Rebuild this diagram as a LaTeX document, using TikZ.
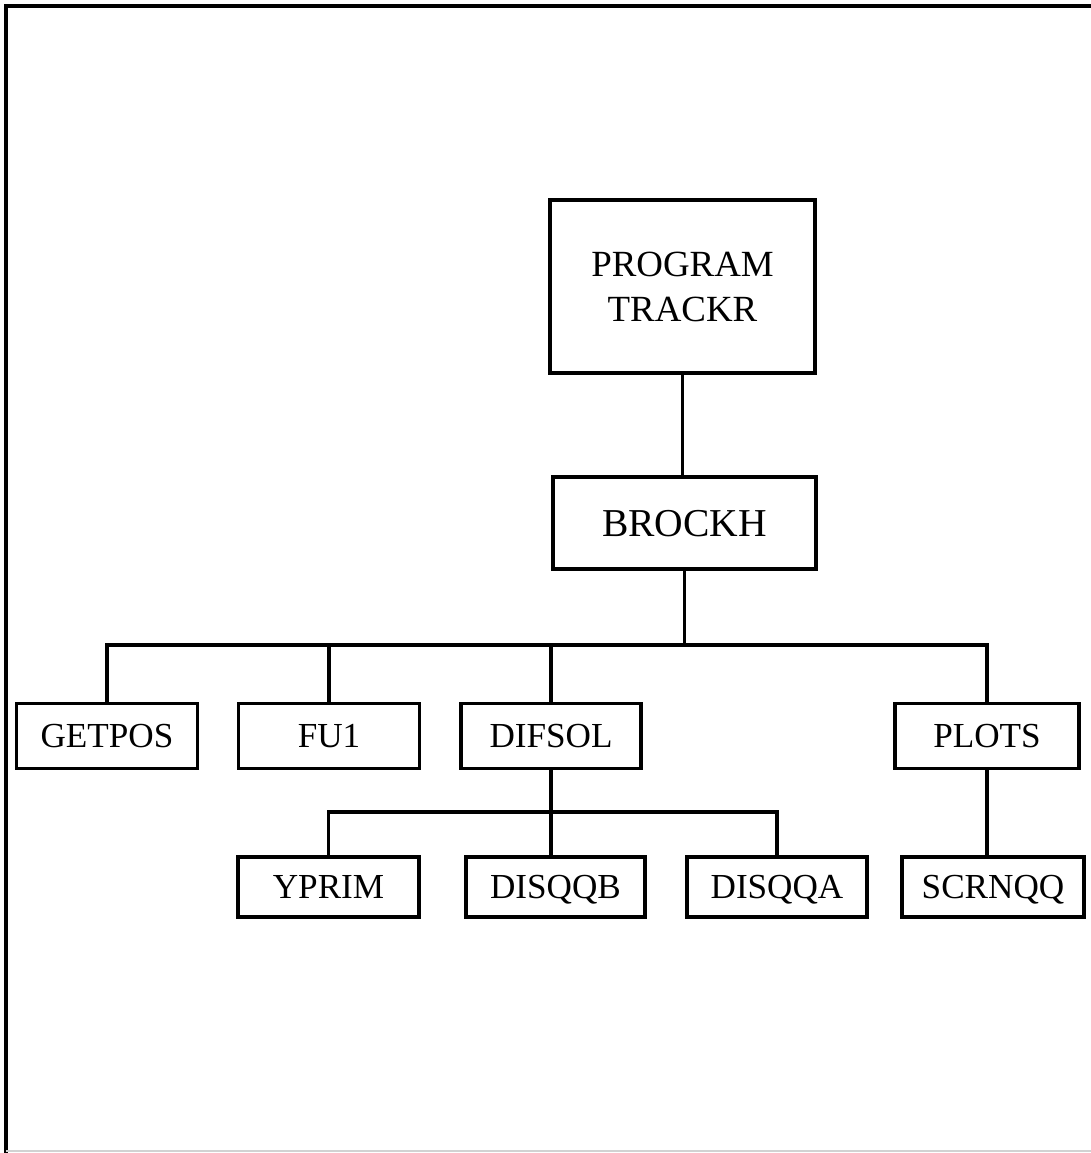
\documentclass[tikz,border=0pt]{standalone}
\usepackage{fontspec}
\setmainfont{Liberation Serif}
\usetikzlibrary{calc}

\begin{document}
\begin{tikzpicture}[x=0.02cm, y=-0.02cm,
    box/.style={draw, line width=1.8pt, inner sep=0pt, minimum width=3.62cm,
      minimum height=1.29cm, text height=13.4pt, text depth=0pt,
      font=\fontsize{20}{24}\selectfont},
    link/.style={line width=1.8pt}]
  \useasboundingbox (0,0) rectangle (1091,1153);
  % page frame
  \draw[line width=2.4pt] (6,1153) -- (6,6) -- (1091,6);
  \draw[gray!35, line width=1pt] (6,1151) -- (1091,1151);

  % main program and driver
  \node[box, minimum width=5.3cm, minimum height=3.46cm, align=center,
    text height=, text depth=,
    font=\fontsize{21}{25.6}\selectfont] (trackr) at (682.5,286.5) {PROGRAM\\TRACKR};
  \node[box, minimum width=5.26cm, minimum height=1.84cm, text height=15pt,
    font=\fontsize{22.5}{27}\selectfont] (brockh) at (684.5,523) {BROCKH};

  % first level
  \node[box] (getpos) at (107,736) {GETPOS};
  \node[box] (fu1) at (329,736) {FU1};
  \node[box, minimum width=3.6cm] (difsol) at (551,736) {DIFSOL};
  \node[box, minimum width=3.68cm] (plots) at (987,736) {PLOTS};

  % second level
  \node[box, minimum height=1.2cm] (yprim) at (328.5,887) {YPRIM};
  \node[box, minimum width=3.58cm, minimum height=1.2cm] (disqqb) at (555.5,887) {DISQQB};
  \node[box, minimum width=3.6cm, minimum height=1.2cm] (disqqa) at (777,887) {DISQQA};
  \node[box, minimum width=3.64cm, minimum height=1.2cm] (scrnqq) at (993,887) {SCRNQQ};

  \coordinate (bus) at (0,645);
  \coordinate (subbus) at (0,812);

  \draw[link] (trackr.south) -- (trackr.south |- brockh.north);
  \draw[link] (brockh.south) -- (brockh.south |- bus);
  \draw[link] (getpos.north) |- (plots.north |- bus) -- (plots.north);
  \foreach \n in {fu1, difsol}
    \draw[link] (\n.north) -- (\n.north |- bus);
  \draw[link] (difsol.south) -- (difsol.south |- disqqb.north);
  \draw[link] (yprim.north) |- (disqqa.north |- subbus) -- (disqqa.north);
  \draw[link] (plots.south) -- (plots.south |- scrnqq.north);
\end{tikzpicture}
\end{document}
